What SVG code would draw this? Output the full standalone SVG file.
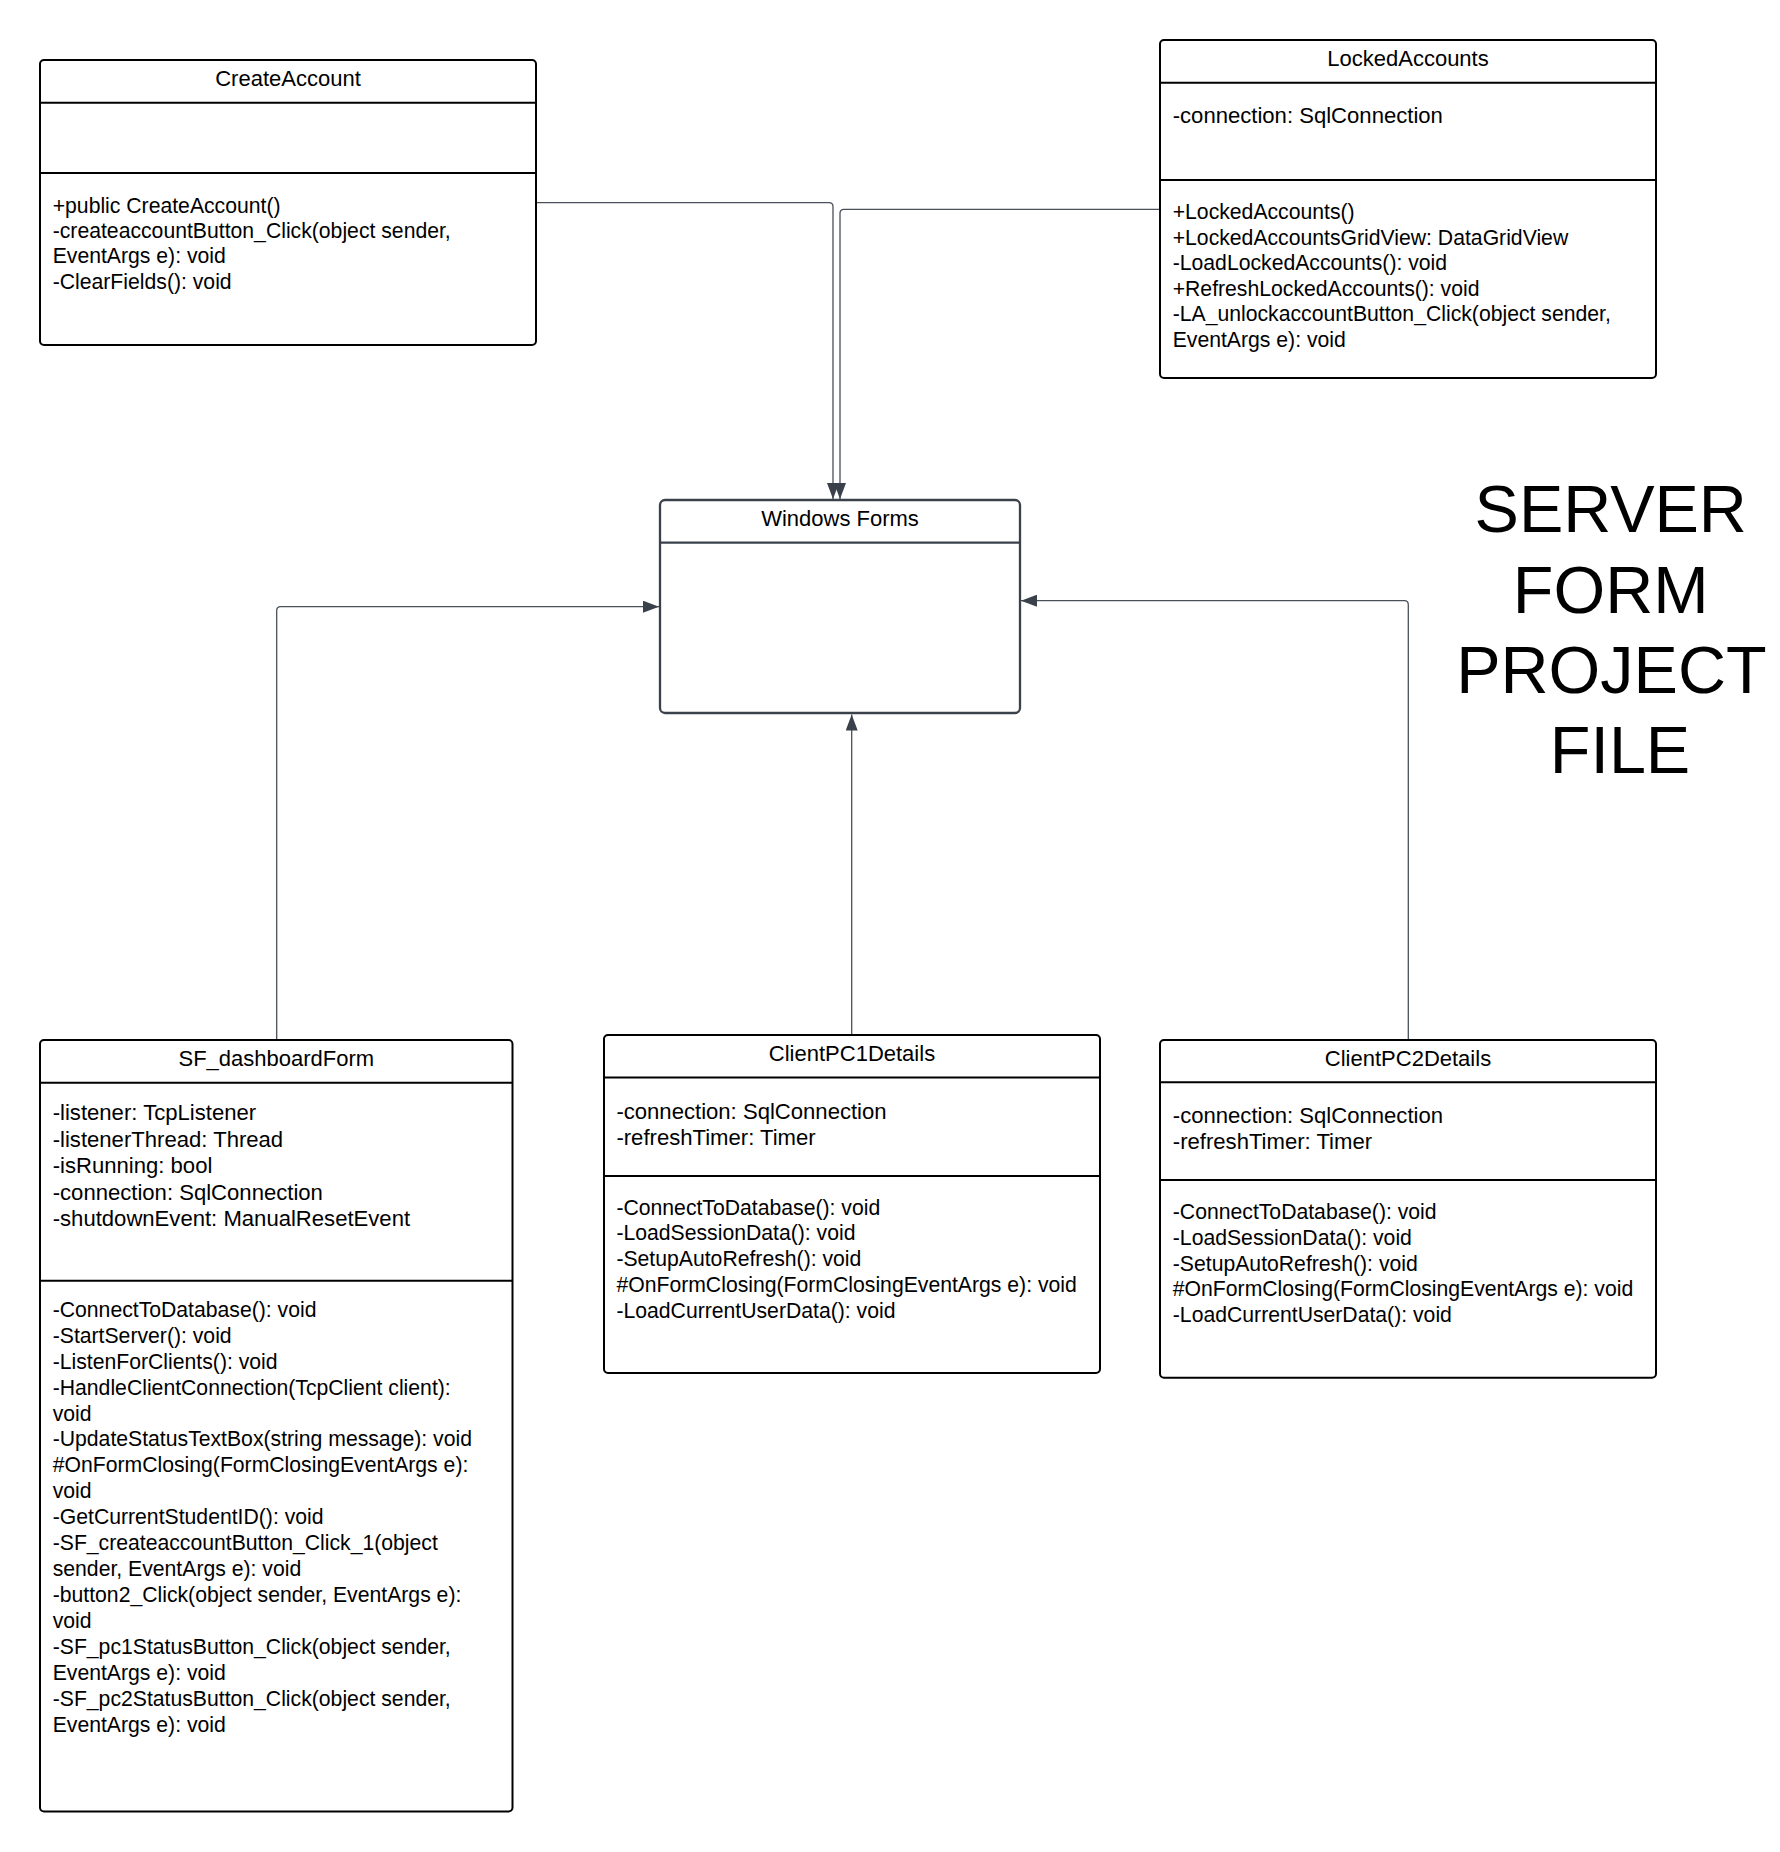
<svg xmlns="http://www.w3.org/2000/svg" width="1780" height="1852" viewBox="0 0 1780 1852">
<defs>
<style>
.box{fill:#fff;stroke:#000;stroke-width:2}
.wf{fill:#fff;stroke:#3a414a;stroke-width:2.3}
.dv{stroke:#000;stroke-width:2}
.dvw{stroke:#3a414a;stroke-width:2.3}
.t{font-family:"Liberation Sans",Arial,Helvetica,sans-serif;font-size:21.2px;fill:#000}
.a{font-family:"Liberation Sans",Arial,Helvetica,sans-serif;font-size:22.1px;fill:#000}
.ttl{font-family:"Liberation Sans",Arial,Helvetica,sans-serif;font-size:22px;fill:#000;text-anchor:middle}
.big{font-family:"Liberation Sans",Arial,Helvetica,sans-serif;font-size:66.5px;fill:#000;text-anchor:middle}
.conn{fill:none;stroke:#4a5059;stroke-width:1.3;marker-end:url(#arrow)}
</style>
<marker id="arrow" viewBox="0 0 16 12" refX="16" refY="6" markerWidth="16" markerHeight="12" markerUnits="userSpaceOnUse" orient="auto">
<path d="M0,0 L16,6 L0,12 z" fill="#3a414a"/>
</marker>
</defs>
<rect width="1780" height="1852" fill="#fff"/>

<g id="connectors">
<path class="conn" d="M536,202.7 H829 Q833,202.7 833,206.7 V499"/>
<path class="conn" d="M1160,209.3 H844 Q840,209.3 840,213.3 V499"/>
<path class="conn" d="M276.7,1039 V610.7 Q276.7,606.7 280.7,606.7 H659"/>
<path class="conn" d="M1408.3,1039 V604.7 Q1408.3,600.7 1404.3,600.7 H1021"/>
<path class="conn" d="M851.7,1035 V714.5"/>
</g>

<g id="createAccount">
<rect class="box" x="40" y="60" width="496" height="285" rx="4"/>
<line class="dv" x1="40" y1="102.7" x2="536" y2="102.7"/>
<line class="dv" x1="40" y1="173" x2="536" y2="173"/>
<text class="ttl" x="288" y="86">CreateAccount</text>
<text class="t">
<tspan x="52.7" y="213.3">+public CreateAccount()</tspan>
<tspan x="52.7" y="238.3">-createaccountButton_Click(object sender,</tspan>
<tspan x="52.7" y="263.3">EventArgs e): void</tspan>
<tspan x="52.7" y="289.3">-ClearFields(): void</tspan>
</text>
</g>

<g id="lockedAccounts">
<rect class="box" x="1160" y="40" width="496" height="338" rx="4"/>
<line class="dv" x1="1160" y1="82.7" x2="1656" y2="82.7"/>
<line class="dv" x1="1160" y1="180" x2="1656" y2="180"/>
<text class="ttl" x="1408" y="65.7">LockedAccounts</text>
<text class="a"><tspan x="1172.7" y="123.3">-connection: SqlConnection</tspan></text>
<text class="t">
<tspan x="1172.7" y="219.3">+LockedAccounts()</tspan>
<tspan x="1172.7" y="244.8">+LockedAccountsGridView: DataGridView</tspan>
<tspan x="1172.7" y="270.3">-LoadLockedAccounts(): void</tspan>
<tspan x="1172.7" y="295.8">+RefreshLockedAccounts(): void</tspan>
<tspan x="1172.7" y="321.3">-LA_unlockaccountButton_Click(object sender,</tspan>
<tspan x="1172.7" y="346.8">EventArgs e): void</tspan>
</text>
</g>

<g id="windowsForms">
<rect class="wf" x="660" y="500" width="360" height="213" rx="5"/>
<line class="dvw" x1="660" y1="542.7" x2="1020" y2="542.7"/>
<text class="ttl" x="840" y="525.7">Windows Forms</text>
</g>

<g id="title">
<text class="big">
<tspan x="1620" y="532">SERVER</tspan>
<tspan x="1620" y="612.5">FORM</tspan>
<tspan x="1620" y="693">PROJECT</tspan>
<tspan x="1620" y="773">FILE</tspan>
</text>
</g>

<g id="sfDashboardForm">
<rect class="box" x="40" y="1040" width="472.5" height="771.5" rx="4"/>
<line class="dv" x1="40" y1="1082.7" x2="512.5" y2="1082.7"/>
<line class="dv" x1="40" y1="1280.7" x2="512.5" y2="1280.7"/>
<text class="ttl" x="276.3" y="1065.7">SF_dashboardForm</text>
<text class="a">
<tspan x="52.7" y="1120">-listener: TcpListener</tspan>
<tspan x="52.7" y="1146.6">-listenerThread: Thread</tspan>
<tspan x="52.7" y="1173.2">-isRunning: bool</tspan>
<tspan x="52.7" y="1199.8">-connection: SqlConnection</tspan>
<tspan x="52.7" y="1226.4">-shutdownEvent: ManualResetEvent</tspan>
</text>
<text class="t">
<tspan x="52.7" y="1316.7">-ConnectToDatabase(): void</tspan>
<tspan x="52.7" y="1342.6">-StartServer(): void</tspan>
<tspan x="52.7" y="1368.6">-ListenForClients(): void</tspan>
<tspan x="52.7" y="1394.5">-HandleClientConnection(TcpClient client):</tspan>
<tspan x="52.7" y="1420.5">void</tspan>
<tspan x="52.7" y="1446.4">-UpdateStatusTextBox(string message): void</tspan>
<tspan x="52.7" y="1472.3">#OnFormClosing(FormClosingEventArgs e):</tspan>
<tspan x="52.7" y="1498.3">void</tspan>
<tspan x="52.7" y="1524.2">-GetCurrentStudentID(): void</tspan>
<tspan x="52.7" y="1550.2">-SF_createaccountButton_Click_1(object</tspan>
<tspan x="52.7" y="1576.1">sender, EventArgs e): void</tspan>
<tspan x="52.7" y="1602">-button2_Click(object sender, EventArgs e):</tspan>
<tspan x="52.7" y="1628">void</tspan>
<tspan x="52.7" y="1653.9">-SF_pc1StatusButton_Click(object sender,</tspan>
<tspan x="52.7" y="1679.9">EventArgs e): void</tspan>
<tspan x="52.7" y="1705.8">-SF_pc2StatusButton_Click(object sender,</tspan>
<tspan x="52.7" y="1731.7">EventArgs e): void</tspan>
</text>
</g>

<g id="clientPC1Details">
<rect class="box" x="604" y="1035" width="496" height="338" rx="4"/>
<line class="dv" x1="604" y1="1077.4" x2="1100" y2="1077.4"/>
<line class="dv" x1="604" y1="1176" x2="1100" y2="1176"/>
<text class="ttl" x="852" y="1061">ClientPC1Details</text>
<text class="a">
<tspan x="616.4" y="1118.5">-connection: SqlConnection</tspan>
<tspan x="616.4" y="1144.6">-refreshTimer: Timer</tspan>
</text>
<text class="t">
<tspan x="616.4" y="1214.7">-ConnectToDatabase(): void</tspan>
<tspan x="616.4" y="1240.4">-LoadSessionData(): void</tspan>
<tspan x="616.4" y="1266.1">-SetupAutoRefresh(): void</tspan>
<tspan x="616.4" y="1291.8">#OnFormClosing(FormClosingEventArgs e): void</tspan>
<tspan x="616.4" y="1317.5">-LoadCurrentUserData(): void</tspan>
</text>
</g>

<g id="clientPC2Details">
<rect class="box" x="1160" y="1040" width="496" height="337.7" rx="4"/>
<line class="dv" x1="1160" y1="1082.3" x2="1656" y2="1082.3"/>
<line class="dv" x1="1160" y1="1180" x2="1656" y2="1180"/>
<text class="ttl" x="1408" y="1065.7">ClientPC2Details</text>
<text class="a">
<tspan x="1172.8" y="1122.7">-connection: SqlConnection</tspan>
<tspan x="1172.8" y="1149">-refreshTimer: Timer</tspan>
</text>
<text class="t">
<tspan x="1172.8" y="1219.4">-ConnectToDatabase(): void</tspan>
<tspan x="1172.8" y="1245">-LoadSessionData(): void</tspan>
<tspan x="1172.8" y="1270.6">-SetupAutoRefresh(): void</tspan>
<tspan x="1172.8" y="1296.2">#OnFormClosing(FormClosingEventArgs e): void</tspan>
<tspan x="1172.8" y="1321.8">-LoadCurrentUserData(): void</tspan>
</text>
</g>
</svg>
